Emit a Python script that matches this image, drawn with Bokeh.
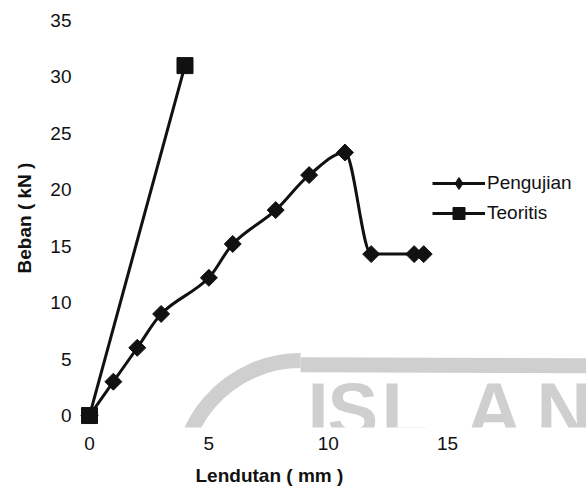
import numpy as np
from bokeh.plotting import figure
from bokeh.models import Range1d, FixedTicker, Legend, LegendItem, Label, Title
from bokeh.embed import file_html
from bokeh.resources import INLINE

# ---- data ----
x_peng = [0, 1, 2, 3, 5, 6, 7.8, 9.2, 10.7, 11.8, 13.6, 14.0]
y_peng = [0, 3, 6, 9, 12.2, 15.2, 18.2, 21.3, 23.3, 14.3, 14.3, 14.3]
x_teo = [0, 4]
y_teo = [0, 31]
x_ticks = [0, 5, 10, 15]
y_ticks = [0, 5, 10, 15, 20, 25, 30, 35]
series_names = ["Pengujian", "Teoritis"]
x_title = "Lendutan ( mm )"
y_title = "Beban ( kN )"
watermark_letters = ["I", "S", "L", "A", "N"]

FONT = "Liberation Sans"
INK = "#111111"
WM = "#cfcfcf"

p = figure(width=586, height=495, output_backend="svg", toolbar_location=None,
           x_range=Range1d(-0.545, 20.82), y_range=Range1d(-1.06, 36.06),
           min_border_left=76, min_border_right=0, min_border_top=8, min_border_bottom=68)
p.outline_line_color = None
p.grid.visible = False
p.background_fill_color = "white"
p.border_fill_color = "white"

# ---- scan watermark (decoration) ----
p.arc(x=8.84, y=-5.76, radius=120, radius_units="screen",
      start_angle=np.pi / 2, end_angle=np.pi * 1.05,
      line_color=WM, line_width=15, level="underlay")
p.segment(x0=8.84, y0=4.5, x1=22, y1=4.4, line_color=WM, line_width=15, level="underlay")
for letter, lx in zip(watermark_letters, [231, 251, 305, 390, 460]):
    p.add_layout(Label(x=lx, y=18, x_units="screen", y_units="screen", text=letter,
                       text_font=FONT, text_font_style="bold", text_font_size="76px",
                       text_baseline="alphabetic", text_color=WM, level="underlay"))

# ---- smoothed line: monotone cubic (PCHIP) drawn as Bezier segments ----
xs = np.asarray(x_peng, float)
ys = np.asarray(y_peng, float)
h = np.diff(xs)
d = np.diff(ys) / h
m = np.zeros_like(xs)
m[0] = d[0]
m[-1] = d[-1]
for k in range(1, len(xs) - 1):
    if d[k - 1] * d[k] <= 0:
        m[k] = 0.0
    else:
        w1 = 2 * h[k] + h[k - 1]
        w2 = h[k] + 2 * h[k - 1]
        m[k] = (w1 + w2) / (w1 / d[k - 1] + w2 / d[k])
segs = dict(x0=xs[:-1], y0=ys[:-1], x1=xs[1:], y1=ys[1:],
            cx0=xs[:-1] + h / 3, cy0=ys[:-1] + m[:-1] * h / 3,
            cx1=xs[1:] - h / 3, cy1=ys[1:] - m[1:] * h / 3)

r_pl = p.bezier(line_color=INK, line_width=3, **segs)
r_pm = p.scatter(x_peng, y_peng, marker="square", angle=np.pi / 4, size=12,
                 fill_color=INK, line_color=INK)
# diamond used only for the legend key
r_pk = p.scatter(x_peng, y_peng, marker="diamond", size=12,
                 fill_color=INK, line_color=INK, visible=False)

r_tl = p.line(x_teo, y_teo, line_color=INK, line_width=3)
r_tm = p.scatter(x_teo, y_teo, marker="square", size=16, fill_color=INK, line_color=INK)

# ---- axes ----
for ax in (p.xaxis[0], p.yaxis[0]):
    ax.axis_line_color = None
    ax.major_tick_line_color = None
    ax.minor_tick_line_color = None
    ax.major_tick_out = 0
    ax.major_tick_in = 0
    ax.major_label_text_font = FONT
    ax.major_label_text_font_size = "19px"
    ax.major_label_text_color = INK

p.xaxis.ticker = FixedTicker(ticks=x_ticks)
p.yaxis.ticker = FixedTicker(ticks=y_ticks)
p.xaxis.major_label_standoff = 9
p.yaxis.major_label_standoff = 5

p.yaxis.axis_label = y_title
p.yaxis.axis_label_standoff = 12
p.yaxis.axis_label_text_font = FONT
p.yaxis.axis_label_text_font_style = "bold"
p.yaxis.axis_label_text_font_size = "19px"
p.yaxis.axis_label_text_color = INK

p.add_layout(Title(text=x_title, align="left", offset=119, standoff=20,
                   text_font=FONT, text_font_style="bold", text_font_size="19px",
                   text_color=INK), "below")

legend = Legend(items=[LegendItem(label=series_names[0], renderers=[r_pl, r_pk]),
                       LegendItem(label=series_names[1], renderers=[r_tl, r_tm])],
                location=(356, 199), orientation="vertical",
                glyph_width=53, glyph_height=30, label_height=30, spacing=0,
                padding=0, margin=0, label_standoff=2,
                label_text_font=FONT, label_text_font_size="19px", label_text_color=INK,
                border_line_color=None, background_fill_alpha=0)
p.add_layout(legend)

open("out.html", "w").write(file_html(p, INLINE))
